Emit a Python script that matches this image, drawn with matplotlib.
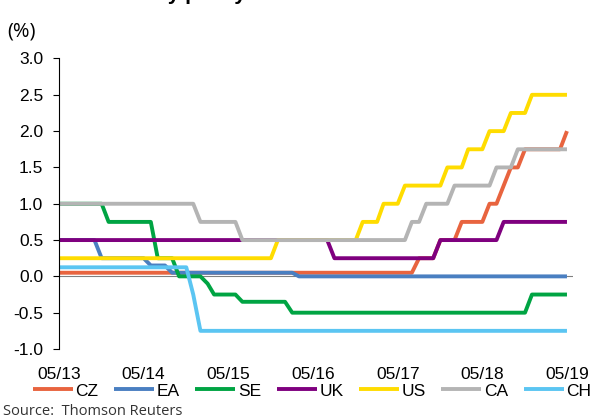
import matplotlib
matplotlib.use("Agg")
import matplotlib.pyplot as plt
import matplotlib.dates as mdates
import pandas as pd

# policy rate changes (month, new rate in %), held until the next change
cz_rates = [("2013-05", 0.05), ("2017-08", 0.25), ("2017-11", 0.50), ("2018-02", 0.75),
            ("2018-06", 1.00), ("2018-08", 1.25), ("2018-09", 1.50), ("2018-11", 1.75),
            ("2019-05", 2.00)]
ea_rates = [("2013-05", 0.50), ("2013-11", 0.25), ("2014-06", 0.15), ("2014-09", 0.05),
            ("2016-03", 0.00)]
se_rates = [("2013-05", 1.00), ("2013-12", 0.75), ("2014-07", 0.25), ("2014-10", 0.00),
            ("2015-02", -0.10), ("2015-03", -0.25), ("2015-07", -0.35), ("2016-02", -0.50),
            ("2018-12", -0.25)]
uk_rates = [("2013-05", 0.50), ("2016-08", 0.25), ("2017-11", 0.50), ("2018-08", 0.75)]
us_rates = [("2013-05", 0.25), ("2015-12", 0.50), ("2016-12", 0.75), ("2017-03", 1.00),
            ("2017-06", 1.25), ("2017-12", 1.50), ("2018-03", 1.75), ("2018-06", 2.00),
            ("2018-09", 2.25), ("2018-12", 2.50)]
ca_rates = [("2013-05", 1.00), ("2015-01", 0.75), ("2015-07", 0.50), ("2017-07", 0.75),
            ("2017-09", 1.00), ("2018-01", 1.25), ("2018-07", 1.50), ("2018-10", 1.75)]
ch_rates = [("2013-05", 0.125), ("2014-12", -0.25), ("2015-01", -0.75)]

countries = ["CZ", "EA", "SE", "UK", "US", "CA", "CH"]
colors = ["#E8643F", "#4A7FC1", "#00A443", "#7F007F", "#FFDC00", "#B4B4B4", "#5BC5F2"]
y_ticks = [-1.0, -0.5, 0.0, 0.5, 1.0, 1.5, 2.0, 2.5, 3.0]

months = pd.date_range("2013-05-01", "2019-05-01", freq="MS")


def monthly(changes):
    s = pd.Series({pd.Timestamp(d): v for d, v in changes})
    return s.reindex(months).ffill()


series = [monthly(r) for r in
          [cz_rates, ea_rates, se_rates, uk_rates, us_rates, ca_rates, ch_rates]]

plt.rcParams["font.family"] = ["Liberation Sans", "DejaVu Sans"]
fig = plt.figure(figsize=(5.93, 4.19), dpi=100)
ax = fig.add_axes([59 / 593, 70 / 419, 514 / 593, 290.5 / 419])

ax.axhline(0, color="#808080", lw=0.8, zorder=1)
for name, s, c in zip(countries, series, colors):
    ax.plot(s.index, s.values, color=c, lw=2.8, label=name,
            solid_joinstyle="round", solid_capstyle="butt", zorder=2)

ax.set_xlim(months[0], months[-1] + pd.Timedelta(days=26))
ax.set_ylim(-1.0, 3.0)
ax.set_yticks(y_ticks)
ax.set_yticklabels([f"{v:.1f}" for v in y_ticks])
ax.xaxis.set_major_locator(mdates.MonthLocator(bymonth=5))
ax.xaxis.set_major_formatter(mdates.DateFormatter("%m/%y"))

for side in ["top", "right", "bottom"]:
    ax.spines[side].set_visible(False)
ax.spines["left"].set_linewidth(0.8)
ax.tick_params(axis="y", direction="out", length=4.3, width=0.8, pad=7, labelsize=12.5)
ax.tick_params(axis="x", length=0, pad=13, labelsize=12.5)

ax.legend(loc="center", bbox_to_anchor=(312 / 593, 1 - 391 / 419),
          bbox_transform=fig.transFigure, ncol=7, frameon=False, fontsize=12.5,
          handlelength=2.3, handletextpad=0.15, columnspacing=0.9, borderpad=0)

fig.text(141 / 593, 1.0, "Key policy rates", fontsize=15, fontweight="bold",
         va="baseline", ha="left")
fig.text(7 / 593, 1 - 31 / 419, "(%)", fontsize=14.5, family="Open Sans",
         va="center", ha="left")
fig.text(3 / 593, 1 - 411 / 419, "Source:  Thomson Reuters", fontsize=10.5,
         family="Open Sans", color="#333333", va="center", ha="left")

fig.savefig("out.png", dpi=100)
